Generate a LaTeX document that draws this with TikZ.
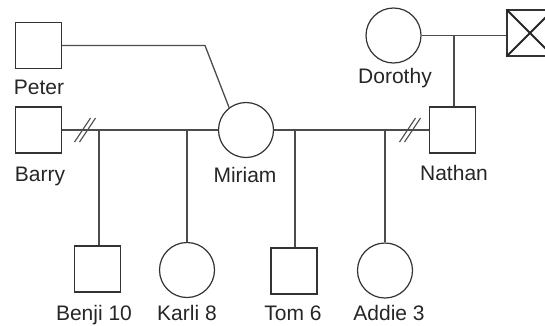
\documentclass[tikz,border=0pt]{standalone}
\usepackage{fontspec}
\setmainfont{Liberation Sans}
\begin{document}
\begin{tikzpicture}[x=1pt,y=-1pt,
  male/.style={draw=black!80,line width=1.2pt,rectangle,minimum size=46pt,inner sep=0pt},
  female/.style={draw=black!80,line width=1.2pt,circle,minimum size=55pt,inner sep=0pt},
  lbl/.style={anchor=base,inner sep=0pt,text=black!85,font=\fontsize{21}{24}\selectfont},
  link/.style={draw=black!70,line width=1.3pt},
  slash/.style={draw=black!70,line width=1.1pt}]
\clip (0,0) rectangle (545,325);
\useasboundingbox (0,0) rectangle (545,325);

% first generation on the right
\node[female] (dorothy) at (393.5,35.5) {};
\node[male]   (xman)    at (530,33) {};
\draw[black!85,line width=1.8pt] (xman.north west) -- (xman.south east)
                                 (xman.north east) -- (xman.south west);
\node[lbl] (dorothyL) at (395,83) {Dorothy};

% parents
\node[male]   (peter)  at (38.5,45.5) {};
\node[lbl] (peterL) at (39,94) {Peter};
\node[male]   (barry)  at (38.5,130) {};
\node[lbl] (barryL) at (40,181) {Barry};
\node[female] (miriam) at (246,130) {};
\node[lbl] (miriamL) at (245,182) {Miriam};
\node[male]   (nathan) at (452.5,130) {};
\node[lbl] (nathanL) at (454,180) {Nathan};

% children
\node[male]   (benji) at (97.5,269) {};
\node[lbl] (benjiL) at (94,320) {Benji 10};
\node[female] (karli) at (187,270) {};
\node[lbl] (karliL) at (187,320) {Karli 8};
\node[male]   (tom)   at (294,271) {};
\node[lbl] (tomL) at (293,320) {Tom 6};
\node[female] (addie) at (385,270.5) {};
\node[lbl] (addieL) at (389,320) {Addie 3};

% couple lines
\coordinate (pbend) at (205,45.5);
\draw[link] (peter.east) -- (pbend) -- (miriam.127);
\draw[link] (barry.east) -- (barry.east -| miriam.west);
\draw[link] (miriam.east) -- (miriam.east -| nathan.west);
\draw[link] (dorothy.east) -- (dorothy.east -| xman.west);
\draw[link] (nathan.north -| 454,0) -- (454,35.5);

% divorce marks
\coordinate (dl) at (85,130);
\coordinate (dr) at (410,130);
\foreach \c in {dl,dr}{
  \draw[slash] ([xshift=-2.5pt]\c) +(-8,12) -- +(8,-12);
  \draw[slash] ([xshift=2.5pt]\c) +(-8,12) -- +(8,-12);
}

% descent lines
\draw[link] (benji.north -| 99,0) -- (99,130);
\draw[link] (karli.north) -- (karli.north |- miriam.west);
\draw[link] (tom.north -| 295,0) -- (295,130);
\draw[link] (addie.north) -- (addie.north |- miriam.east);
\end{tikzpicture}
\end{document}
